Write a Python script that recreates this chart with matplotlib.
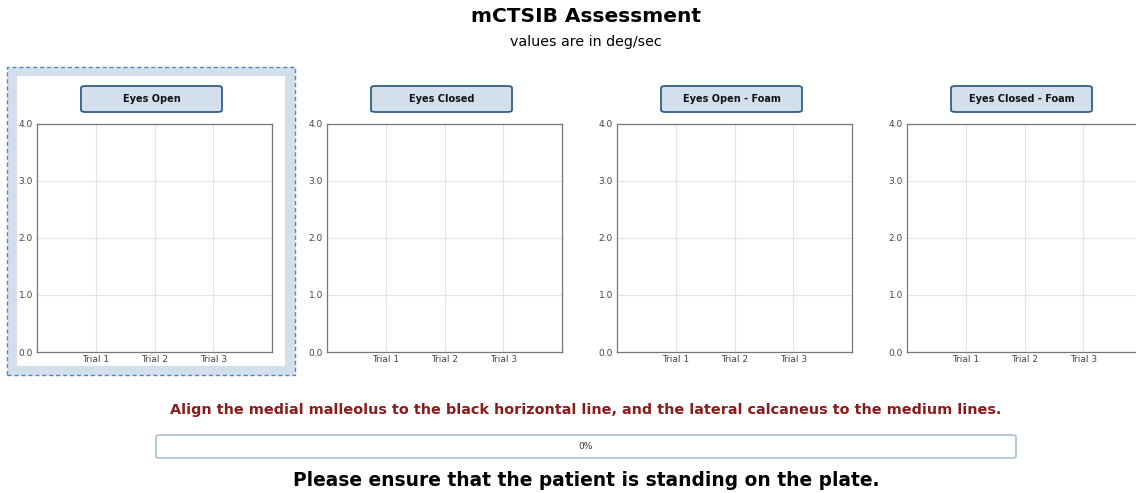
import matplotlib.pyplot as plt
from matplotlib.patches import FancyBboxPatch, Rectangle

W, H = 1136, 493

panel_titles = ["Eyes Open", "Eyes Closed", "Eyes Open - Foam", "Eyes Closed - Foam"]
trial_labels = ["Trial 1", "Trial 2", "Trial 3"]
trial_pos = [1, 2, 3]
y_ticks = [0.0, 1.0, 2.0, 3.0, 4.0]
progress = 0

fig = plt.figure(figsize=(W / 100, H / 100), dpi=100)
fig.patch.set_facecolor("white")


def fx(px):
    return px / W


def fy(py):
    return 1 - py / H


# highlight around first panel
fig.patches.append(Rectangle((fx(7), fy(375)), fx(288), 308 / H, transform=fig.transFigure,
                             facecolor="#d3e0ec", edgecolor="#4f86cc", lw=1.0, ls=(0, (3, 2)), zorder=-2))
fig.patches.append(Rectangle((fx(17), fy(366)), fx(268), 290 / H, transform=fig.transFigure,
                             facecolor="white", edgecolor="none", zorder=-1))

for i, name in enumerate(panel_titles):
    left = 37 + i * 290
    ax = fig.add_axes([fx(left), fy(352), fx(235), 228 / H])
    ax.set_xlim(0, 4)
    ax.set_ylim(0, 4)
    ax.set_xticks(trial_pos)
    ax.set_xticklabels(trial_labels)
    ax.set_yticks(y_ticks)
    ax.set_yticklabels([f"{v:.1f}" for v in y_ticks])
    ax.tick_params(length=0, labelsize=6.5, colors="#444444", pad=3)
    ax.tick_params(axis="x", pad=2)
    ax.grid(True, color="#e3e3e3", lw=0.8)
    ax.set_axisbelow(True)
    for s in ax.spines.values():
        s.set_color("#777777")
        s.set_linewidth(0.9)
    if left + 235 > W:
        ax.spines["right"].set_visible(False)

    # button-like title
    bx = left + 44
    fig.patches.append(FancyBboxPatch((fx(bx), fy(112)), fx(141), 26 / H,
                                      boxstyle="round,pad=0,rounding_size=0.004",
                                      transform=fig.transFigure, facecolor="#d3e0ec",
                                      edgecolor="#2f5f86", lw=1.3, zorder=2))
    fig.text(fx(bx + 70.5), fy(99.5), name, ha="center", va="center",
             fontsize=7, fontweight="bold", color="#111111")

cx = fx(586)
fig.text(cx, fy(17), "mCTSIB Assessment", ha="center", va="center",
         fontsize=14.5, fontweight="bold", color="black")
fig.text(cx, fy(42), "values are in deg/sec", ha="center", va="center",
         fontsize=10.3, color="black")
fig.text(cx, fy(410), "Align the medial malleolus to the black horizontal line, and the lateral calcaneus to the medium lines.",
         ha="center", va="center", fontsize=10.4, fontweight="bold", color="#8b1a1a")

# progress bar
fig.patches.append(FancyBboxPatch((fx(156), fy(458)), fx(860), 23 / H,
                                  boxstyle="round,pad=0,rounding_size=0.003",
                                  transform=fig.transFigure, facecolor="white",
                                  edgecolor="#a9bfd6", lw=1.2))
fig.text(cx, fy(446.5), f"{progress}%", ha="center", va="center", fontsize=6.5, color="#333333")

fig.text(cx, fy(481), "Please ensure that the patient is standing on the plate.",
         ha="center", va="center", fontsize=13.4, fontweight="bold", color="black")

fig.savefig("out.png", dpi=100)
